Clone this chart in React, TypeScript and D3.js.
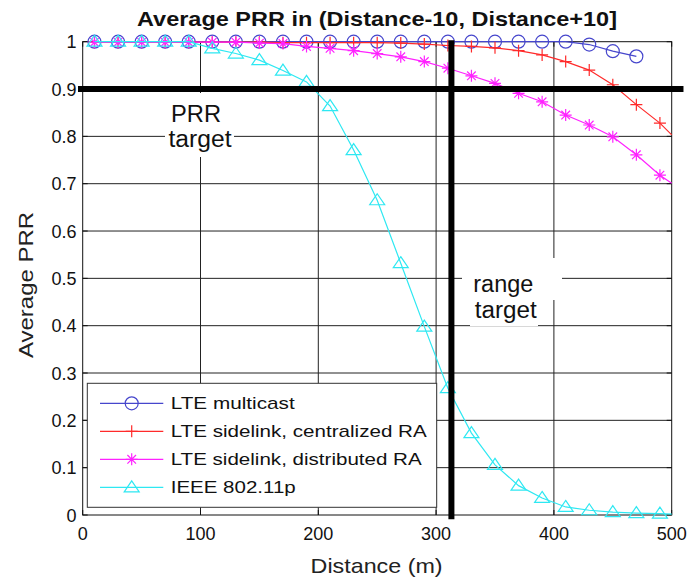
import React from "react";
import * as d3 from "d3";

// distances (m) where each curve was sampled
const distance = [10, 30, 50, 70, 90, 110, 130, 150, 170, 190, 210, 230, 250, 270, 290, 310, 330, 350, 370, 390, 410, 430, 450, 470, 490];

// average PRR per series
const lteMulticast = [1, 1, 1, 1, 1, 1, 1, 1, 1, 1, 1, 1, 1, 1, 1, 1, 1, 1, 1, 1, 1, 0.994, 0.98, 0.969];
const lteCentralized = [0.999, 0.999, 0.999, 0.999, 0.999, 0.999, 0.999, 0.999, 0.998, 0.998, 0.998, 0.998, 0.998, 0.997, 0.995, 0.992, 0.99, 0.987, 0.981, 0.972, 0.958, 0.94, 0.909, 0.867, 0.828];
const lteDistributed = [0.999, 0.999, 0.999, 0.999, 0.999, 0.999, 0.999, 0.997, 0.996, 0.99, 0.986, 0.981, 0.975, 0.968, 0.958, 0.944, 0.928, 0.912, 0.891, 0.873, 0.845, 0.824, 0.799, 0.761, 0.718];
const ieee80211p = [1, 1, 1, 1, 1, 0.986, 0.975, 0.961, 0.939, 0.915, 0.864, 0.771, 0.665, 0.532, 0.398, 0.268, 0.173, 0.106, 0.062, 0.036, 0.017, 0.01, 0.006, 0.004, 0.003];
// where the lines meet the right edge of the axes (500 m), no marker there
const edgeValues = [null, 0.803, 0.701, 0.002];

const seriesNames = ["LTE multicast", "LTE sidelink, centralized RA", "LTE sidelink, distributed RA", "IEEE 802.11p"];
const seriesValues = [lteMulticast, lteCentralized, lteDistributed, ieee80211p];
const seriesColors = ["#4646cc", "#ff2a2a", "#ff22ff", "#2ee8f2"];
const seriesMarkers = ["circle", "plus", "star", "triangle"];
const legendTextWidths = [124, 256, 251, 125];

const xTicks = [0, 100, 200, 300, 400, 500];
const yTicks = [0, 0.1, 0.2, 0.3, 0.4, 0.5, 0.6, 0.7, 0.8, 0.9, 1];
const yTickLabels = ["0", "0.1", "0.2", "0.3", "0.4", "0.5", "0.6", "0.7", "0.8", "0.9", "1"];

const prrTarget = 0.9;
const rangeTarget = 313;

const W = 688;
const H = 581;
const FONT = "'Liberation Sans', Arial, Helvetica, sans-serif";

function Marker({ kind, x, y, color }: { kind: string; x: number; y: number; color: string }) {
  if (kind === "circle") {
    return <circle cx={x} cy={y} r={6.5} fill="none" stroke={color} strokeWidth={1.2} />;
  }
  if (kind === "plus") {
    return <path d={`M${x - 6},${y}H${x + 6}M${x},${y - 6}V${y + 6}`} stroke={color} strokeWidth={1.2} fill="none" />;
  }
  if (kind === "star") {
    return (
      <path
        d={`M${x - 6},${y}H${x + 6}M${x},${y - 6}V${y + 6}M${x - 4.3},${y - 4.3}L${x + 4.3},${y + 4.3}M${x - 4.3},${y + 4.3}L${x + 4.3},${y - 4.3}`}
        stroke={color}
        strokeWidth={1.2}
        fill="none"
      />
    );
  }
  return <path d={`M${x},${y - 6.5}L${x + 7.5},${y + 4.5}L${x - 7.5},${y + 4.5}Z`} stroke={color} strokeWidth={1.2} fill="none" />;
}

export default function App() {
  const x = d3.scaleLinear().domain([0, 500]).range([82.7, 671.7]);
  const y = d3.scaleLinear().domain([0, 1]).range([515, 41.7]);
  const line = d3.line<[number, number]>().x((d) => x(d[0])).y((d) => y(d[1]));

  const left = x(0), right = x(500), top = y(1), bottom = y(0);

  return (
    <svg width={W} height={H} style={{ position: "absolute", left: 0, top: 0, background: "#fff" }} fontFamily={FONT}>
      {/* grid */}
      {xTicks.slice(1, -1).map((t) => (
        <line key={"gx" + t} x1={x(t)} x2={x(t)} y1={top} y2={bottom} stroke="#222" strokeWidth={1} />
      ))}
      {yTicks.slice(1, -1).map((t) => (
        <line key={"gy" + t} x1={left} x2={right} y1={y(t)} y2={y(t)} stroke="#222" strokeWidth={1} />
      ))}

      {/* axes box and inward ticks */}
      <rect x={left} y={top} width={right - left} height={bottom - top} fill="none" stroke="#111" strokeWidth={1} />
      {xTicks.map((t) => (
        <g key={"tx" + t}>
          <line x1={x(t)} x2={x(t)} y1={bottom} y2={bottom - 5} stroke="#111" />
          <line x1={x(t)} x2={x(t)} y1={top} y2={top + 5} stroke="#111" />
          <text x={x(t)} y={540} textAnchor="middle" fontSize={18} fill="#111">
            {t}
          </text>
        </g>
      ))}
      {yTicks.map((t, i) => (
        <g key={"ty" + t}>
          <line x1={left} x2={left + 5} y1={y(t)} y2={y(t)} stroke="#111" />
          <line x1={right} x2={right - 5} y1={y(t)} y2={y(t)} stroke="#111" />
          <text x={76.5} y={y(t) + 6.5} textAnchor="end" fontSize={18} fill="#111">
            {yTickLabels[i]}
          </text>
        </g>
      ))}

      {/* series */}
      {seriesValues.map((vals, si) => {
        const pts: [number, number][] = vals.map((v, i) => [distance[i], v]);
        const edge = edgeValues[si];
        const linePts: [number, number][] = edge === null ? pts : [...pts, [500, edge]];
        return (
          <g key={seriesNames[si]}>
            <path d={line(linePts) || ""} fill="none" stroke={seriesColors[si]} strokeWidth={1.2} />
            {pts.map((p, i) => (
              <Marker key={i} kind={seriesMarkers[si]} x={x(p[0])} y={y(p[1])} color={seriesColors[si]} />
            ))}
          </g>
        );
      })}

      {/* targets */}
      <line x1={x(-4)} x2={x(510)} y1={y(prrTarget)} y2={y(prrTarget)} stroke="#000" strokeWidth={6} />
      <line x1={x(rangeTarget)} x2={x(rangeTarget)} y1={y(1.003)} y2={y(-0.009)} stroke="#000" strokeWidth={6} />

      <rect x={165} y={93} width={69} height={64} fill="#fff" />
      <text x={196} y={121.7} textAnchor="middle" fontSize={23} fill="#111" textLength={50} lengthAdjust="spacingAndGlyphs">
        PRR
      </text>
      <text x={200} y={146.7} textAnchor="middle" fontSize={23} fill="#111" textLength={63} lengthAdjust="spacingAndGlyphs">
        target
      </text>

      <rect x={462} y={258} width={100} height={42} fill="#fff" />
      <rect x={470} y={299} width={68} height={27} fill="#fff" />
      <text x={503.3} y={291.7} textAnchor="middle" fontSize={23} fill="#111" textLength={60} lengthAdjust="spacingAndGlyphs">
        range
      </text>
      <text x={505.8} y={318.3} textAnchor="middle" fontSize={23} fill="#111" textLength={62} lengthAdjust="spacingAndGlyphs">
        target
      </text>

      {/* legend */}
      <rect x={87.3} y={383.3} width={349.4} height={124} fill="#fff" stroke="#333" strokeWidth={1} />
      {seriesNames.map((name, i) => {
        const ly = 403.3 + i * 28;
        return (
          <g key={"lg" + name}>
            <line x1={100} x2={163.3} y1={ly} y2={ly} stroke={seriesColors[i]} strokeWidth={1.2} />
            <Marker kind={seriesMarkers[i]} x={131.7} y={ly} color={seriesColors[i]} />
            <text x={170.7} y={ly + 6} fontSize={17} fill="#111" textLength={legendTextWidths[i]} lengthAdjust="spacingAndGlyphs">
              {name}
            </text>
          </g>
        );
      })}

      {/* labels */}
      <text x={377} y={26} textAnchor="middle" fontSize={21} fontWeight="bold" fill="#111" textLength={480} lengthAdjust="spacingAndGlyphs">
        Average PRR in (Distance-10, Distance+10]
      </text>
      <text x={376.6} y={573} textAnchor="middle" fontSize={21} fill="#222" textLength={132} lengthAdjust="spacingAndGlyphs">
        Distance (m)
      </text>
      <text
        transform="translate(33,285) rotate(-90)"
        textAnchor="middle"
        fontSize={21}
        fill="#222"
        textLength={146}
        lengthAdjust="spacingAndGlyphs"
      >
        Average PRR
      </text>
    </svg>
  );
}
